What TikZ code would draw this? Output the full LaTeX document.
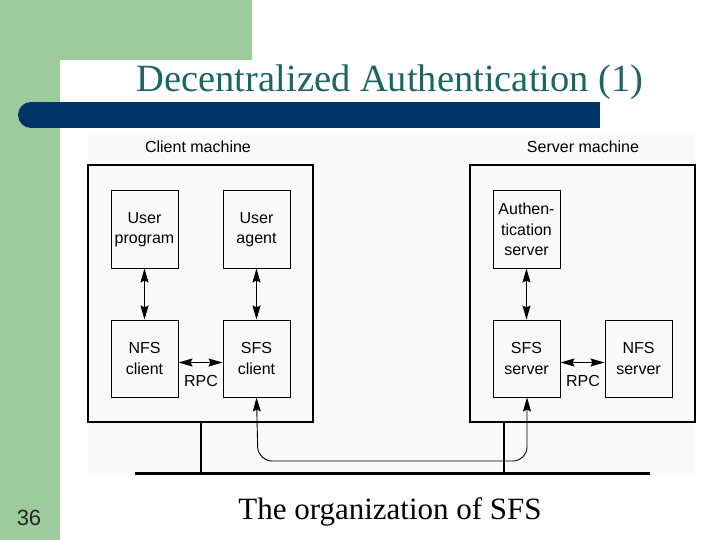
\documentclass[tikz,border=0pt]{standalone}
\usepackage{fontspec}
\setmainfont{Liberation Serif}
\newfontfamily\sansf{Liberation Sans}
\usetikzlibrary{arrows.meta}
\definecolor{sgreen}{HTML}{9DCB9E}
\definecolor{sblue}{HTML}{003366}
\definecolor{steal}{HTML}{1B6661}
\definecolor{figbg}{HTML}{FAFAFA}
\begin{document}
\begin{tikzpicture}[x=1pt,y=-1pt,
  box/.style={draw,line width=1pt,minimum width=67pt,minimum height=77pt,inner sep=0pt,align=center,font=\sansf\fontsize{16}{20.5}\selectfont},
  lab/.style={font=\sansf\fontsize{16}{18}\selectfont,inner sep=0pt},
  ar/.style={{Stealth[length=14pt,width=8pt,inset=2pt]}-{Stealth[length=14pt,width=8pt,inset=2pt]},line width=1.1pt}]
\useasboundingbox (0,0) rectangle (720,540);
\fill[white] (0,0) rectangle (720,540);
\fill[sgreen] (0,0) rectangle (252,60);
\fill[sgreen] (0,0) rectangle (60,540);
\fill[white] (80,60) rectangle (252,540);
\fill[white] (60,80) rectangle (252,540);
\fill[white] (80,80) circle[radius=20];
\fill[sblue] (31,102) rectangle (600,128);
\fill[sblue] (31,115) circle[radius=13];
\node[text=steal,font=\fontsize{38.5}{44}\selectfont,inner sep=0pt] (title) at (390,82) {Decentralized Authentication (1)};
\fill[figbg] (88,135) rectangle (695,475);
\node[lab] (cm) at (198,147) {Client machine};
\node[lab] (sm) at (583,147) {Server machine};
\draw[line width=1.8pt] (88,165) rectangle (313,422);
\draw[line width=1.8pt] (470,165) rectangle (695,422);
\node[box] (up) at (144.5,229.5) {User\\program};
\node[box] (ua) at (256.5,229.5) {User\\agent};
\node[box] (nc) at (144.5,358.5) {NFS\\client};
\node[box] (sc) at (256.5,358.5) {SFS\\client};
\node[box] (as) at (526.5,229.5) {Authen-\\tication\\server};
\node[box] (ss) at (526.5,358.5) {SFS\\server};
\node[box] (ns) at (638.5,358.5) {NFS\\server};
\draw[ar] (up) -- (nc);
\draw[ar] (ua) -- (sc);
\draw[ar] (as) -- (ss);
\draw[ar] ([yshift=-4pt]nc.east) -- ([yshift=-4pt]sc.west);
\draw[ar] ([yshift=-4pt]ss.east) -- ([yshift=-4pt]ns.west);
\node[lab] (r1) at (201,381) {RPC};
\node[lab] (r2) at (583,381) {RPC};
\coordinate (b1) at (135,473);
\coordinate (b2) at (650,473);
\draw[line width=3pt] (b1) -- (b2);
\draw[line width=1.8pt] (201,422) -- (201,473);
\draw[line width=1.8pt] (504,422) -- (504,473);
\draw[ar,line width=0.9pt,rounded corners=14pt] (sc.south) -- (258,461) -- (527,461) -- ([xshift=0.5pt]ss.south);
\node[font=\sansf\fontsize{22}{26}\selectfont,text=black!85] (pg) at (29,518) {36};
\node[font=\fontsize{31}{36}\selectfont] (cap) at (390,512) {The organization of SFS};
\end{tikzpicture}
\end{document}
